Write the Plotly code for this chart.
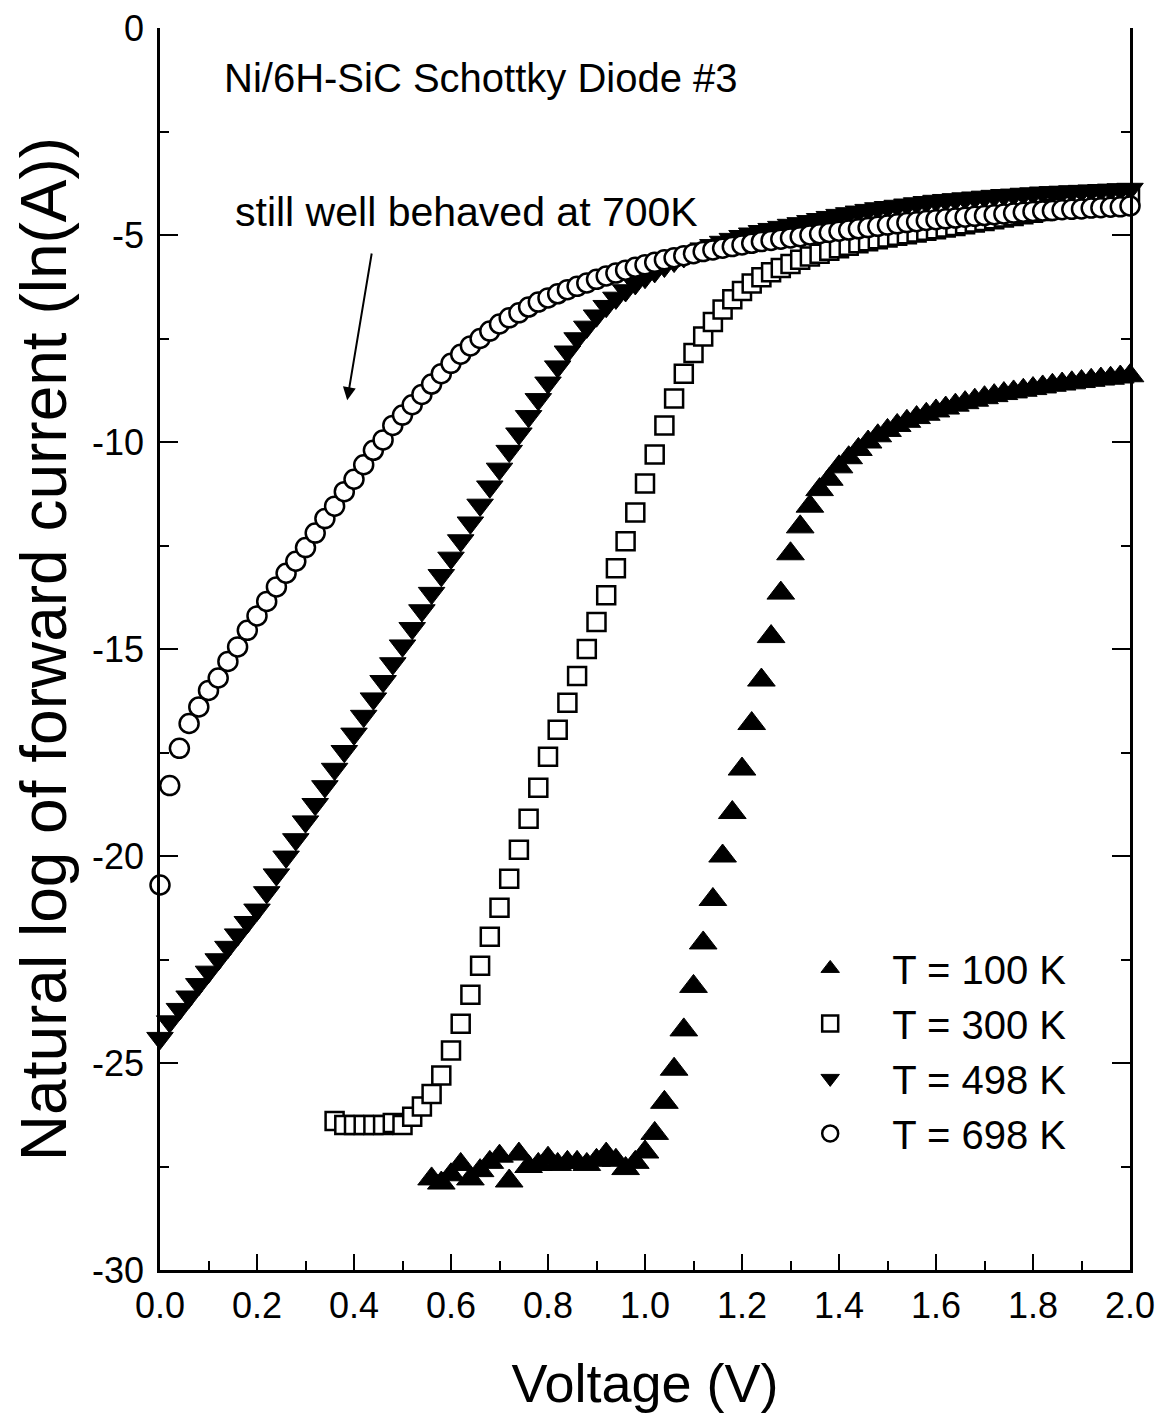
import plotly.graph_objects as go

# ---------------- data ----------------
voltage_grid = [0.00, 0.02, 0.04, 0.06, 0.08, 0.10, 0.12, 0.14, 0.16, 0.18,
                0.20, 0.22, 0.24, 0.26, 0.28, 0.30, 0.32, 0.34, 0.36, 0.38,
                0.40, 0.42, 0.44, 0.46, 0.48, 0.50, 0.52, 0.54, 0.56, 0.58,
                0.60, 0.62, 0.64, 0.66, 0.68, 0.70, 0.72, 0.74, 0.76, 0.78,
                0.80, 0.82, 0.84, 0.86, 0.88, 0.90, 0.92, 0.94, 0.96, 0.98,
                1.00, 1.02, 1.04, 1.06, 1.08, 1.10, 1.12, 1.14, 1.16, 1.18,
                1.20, 1.22, 1.24, 1.26, 1.28, 1.30, 1.32, 1.34, 1.36, 1.38,
                1.40, 1.42, 1.44, 1.46, 1.48, 1.50, 1.52, 1.54, 1.56, 1.58,
                1.60, 1.62, 1.64, 1.66, 1.68, 1.70, 1.72, 1.74, 1.76, 1.78,
                1.80, 1.82, 1.84, 1.86, 1.88, 1.90, 1.92, 1.94, 1.96, 1.98,
                2.00]

# T = 100 K  (starts at 0.56 V)
v_100 = voltage_grid[28:]
lnI_100 = [-27.8, -27.9, -27.7, -27.45, -27.8, -27.6, -27.4, -27.25, -27.85, -27.2,
           -27.5, -27.45, -27.3, -27.45, -27.4, -27.4, -27.45, -27.35, -27.2, -27.35,
           -27.55, -27.4, -27.15, -26.7, -25.95, -25.15, -24.2, -23.15, -22.1, -21.05,
           -20.0, -18.95, -17.9, -16.8, -15.75, -14.7, -13.65, -12.7, -12.05, -11.55,
           -11.15, -10.9, -10.6, -10.38, -10.18, -10.0, -9.85, -9.72, -9.6, -9.5,
           -9.41, -9.33, -9.25, -9.18, -9.11, -9.05, -8.99, -8.93, -8.88, -8.83,
           -8.79, -8.75, -8.71, -8.67, -8.63, -8.6, -8.57, -8.54, -8.51, -8.48,
           -8.46, -8.43, -8.4]

# T = 300 K  (starts at 0.36 V)
v_300 = voltage_grid[18:]
lnI_300 = [-26.4, -26.5, -26.5, -26.5, -26.5, -26.5, -26.45, -26.5, -26.3, -26.05,
           -25.75, -25.3, -24.7, -24.05, -23.35, -22.65, -21.95, -21.25, -20.55, -19.85,
           -19.1, -18.35, -17.6, -16.95, -16.3, -15.65, -15.0, -14.35, -13.7, -13.05,
           -12.4, -11.7, -11.0, -10.3, -9.6, -8.95, -8.35, -7.85, -7.45, -7.1,
           -6.8, -6.55, -6.35, -6.17, -6.02, -5.9, -5.8, -5.7, -5.6, -5.52,
           -5.45, -5.38, -5.32, -5.26, -5.2, -5.15, -5.1, -5.06, -5.02, -4.98,
           -4.94, -4.9, -4.86, -4.82, -4.78, -4.74, -4.7, -4.66, -4.62, -4.58,
           -4.54, -4.5, -4.46, -4.42, -4.38, -4.34, -4.3, -4.26, -4.22, -4.18,
           -4.14, -4.1, -4.06]

# T = 498 K
v_498 = voltage_grid
lnI_498 = [-24.4, -24.0, -23.7, -23.4, -23.1, -22.8, -22.5, -22.2, -21.9, -21.6,
           -21.3, -20.88, -20.45, -20.02, -19.6, -19.17, -18.75, -18.32, -17.9, -17.47,
           -17.05, -16.62, -16.2, -15.78, -15.35, -14.92, -14.5, -14.07, -13.65, -13.22,
           -12.8, -12.38, -11.95, -11.52, -11.08, -10.65, -10.22, -9.8, -9.38, -8.97,
           -8.57, -8.18, -7.82, -7.5, -7.22, -6.95, -6.72, -6.52, -6.34, -6.17,
           -6.02, -5.88, -5.75, -5.63, -5.52, -5.42, -5.33, -5.25, -5.17, -5.1,
           -5.03, -4.97, -4.91, -4.86, -4.81, -4.76, -4.72, -4.67, -4.62, -4.57,
           -4.52, -4.48, -4.44, -4.4, -4.36, -4.33, -4.3, -4.27, -4.24, -4.21,
           -4.18, -4.16, -4.14, -4.12, -4.1, -4.08, -4.06, -4.04, -4.03, -4.01,
           -4.0, -3.98, -3.97, -3.96, -3.95, -3.94, -3.93, -3.92, -3.91, -3.9,
           -3.89]

# T = 698 K
v_698 = voltage_grid
lnI_698 = [-20.7, -18.3, -17.4, -16.8, -16.4, -16.0, -15.7, -15.3, -14.95, -14.55,
           -14.2, -13.85, -13.5, -13.17, -12.88, -12.55, -12.2, -11.85, -11.55, -11.2,
           -10.9, -10.55, -10.2, -9.95, -9.6, -9.35, -9.1, -8.85, -8.6, -8.35,
           -8.1, -7.88, -7.68, -7.5, -7.32, -7.15, -7.0, -6.88, -6.74, -6.62,
           -6.52, -6.42, -6.32, -6.24, -6.16, -6.07, -5.99, -5.92, -5.85, -5.78,
           -5.72, -5.66, -5.6, -5.55, -5.5, -5.45, -5.4, -5.36, -5.32, -5.28,
           -5.24, -5.2, -5.16, -5.13, -5.1, -5.07, -5.04, -5.0, -4.97, -4.94,
           -4.91, -4.88, -4.85, -4.82, -4.79, -4.76, -4.73, -4.7, -4.68, -4.65,
           -4.63, -4.61, -4.59, -4.57, -4.55, -4.53, -4.51, -4.49, -4.47, -4.45,
           -4.43, -4.42, -4.41, -4.39, -4.38, -4.37, -4.35, -4.34, -4.33, -4.32,
           -4.3]

series_names = ["T = 100 K", "T = 300 K", "T = 498 K", "T = 698 K"]

x_tickvals = [0.0, 0.2, 0.4, 0.6, 0.8, 1.0, 1.2, 1.4, 1.6, 1.8, 2.0]
x_ticktext = ["0.0", "0.2", "0.4", "0.6", "0.8", "1.0", "1.2", "1.4", "1.6", "1.8", "2.0"]
y_tickvals = [0, -5, -10, -15, -20, -25, -30]
y_ticktext = ["0", "-5", "-10", "-15", "-20", "-25", "-30"]

title_text = "Ni/6H-SiC Schottky Diode #3"
note_text = "still well behaved at 700K"

# ---------------- figure ----------------
FONT = "Liberation Sans, Arial, Helvetica, sans-serif"
fig = go.Figure()

styles = [
    dict(symbol="triangle-up", size=24, color="black", line=dict(color="black", width=1)),
    dict(symbol="square", size=18, color="white", line=dict(color="black", width=2.5)),
    dict(symbol="triangle-down", size=23, color="black", line=dict(color="black", width=1)),
    dict(symbol="circle", size=19, color="white", line=dict(color="black", width=2.5)),
]
xs = [v_100, v_300, v_498, v_698]
ys = [lnI_100, lnI_300, lnI_498, lnI_698]

for i in range(4):
    fig.add_trace(go.Scatter(
        x=xs[i], y=ys[i], mode="markers", name=series_names[i],
        marker=styles[i], cliponaxis=False, legendgroup=f"g{i}",
    ))

axis_common = dict(
    showline=True, linecolor="black", linewidth=2.5,
    ticks="inside", tickcolor="black", tickwidth=2,
    showgrid=False, zeroline=False, automargin=False,
    ticklabeloverflow="allow",
    tickfont=dict(family=FONT, size=36, color="black"),
)

fig.update_xaxes(
    range=[0, 2.0], tickvals=x_tickvals, ticktext=x_ticktext, ticklen=16,
    mirror=False,
    minor=dict(dtick=0.1, tick0=0, ticks="inside", ticklen=9, tickwidth=2,
               tickcolor="black", showgrid=False),
    ticklabelstandoff=2,
    title=dict(text="Voltage (V)", font=dict(family=FONT, size=54, color="black"),
               standoff=40),
    **axis_common,
)
fig.update_yaxes(
    range=[-30, 0], tickvals=y_tickvals, ticktext=y_ticktext, ticklen=18,
    mirror="ticks",
    minor=dict(dtick=2.5, tick0=0, ticks="inside", ticklen=9, tickwidth=2,
               tickcolor="black", showgrid=False),
    ticklabelstandoff=6,
    title=dict(text="Natural log of forward current (ln(A))",
               font=dict(family=FONT, size=64, color="black"), standoff=8),
    **axis_common,
)

fig.add_annotation(x=0.128, y=-1.21, xref="x", yref="y", text=title_text,
                   showarrow=False, xanchor="left", yanchor="middle",
                   font=dict(family=FONT, size=40, color="black"))
fig.add_annotation(x=0.15, y=-4.44, xref="x", yref="y", text=note_text,
                   showarrow=False, xanchor="left", yanchor="middle",
                   font=dict(family=FONT, size=41, color="black"))
fig.add_annotation(x=0.386, y=-8.99, xref="x", yref="y",
                   ax=0.437, ay=-5.41, axref="x", ayref="y",
                   text="", showarrow=True, arrowhead=2, arrowsize=1.3,
                   arrowwidth=2, arrowcolor="black")

# the page body adds an 8 px margin, so the figure is sized 8 px smaller
fig.update_layout(
    width=1156, height=1412,
    margin=dict(l=152, r=34, t=20, b=150, autoexpand=False),
    plot_bgcolor="white", paper_bgcolor="white",
    font=dict(family=FONT, color="black"),
    showlegend=True,
    legend=dict(x=0.627, y=0.269, xanchor="left", yanchor="top",
                font=dict(family=FONT, size=40, color="black"),
                bgcolor="rgba(0,0,0,0)", itemwidth=114, tracegroupgap=14,
                traceorder="normal"),
)

fig.write_html("out.html")
